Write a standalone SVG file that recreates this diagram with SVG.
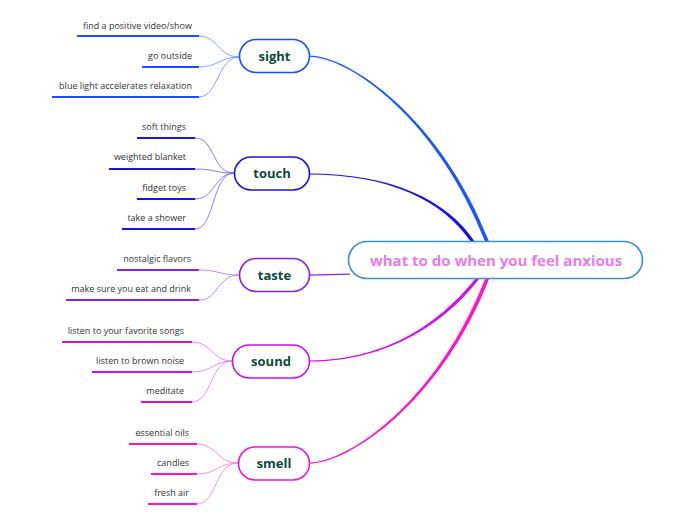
<svg xmlns="http://www.w3.org/2000/svg" width="696" height="520" viewBox="0 0 696 520">
<style>
.lbl{font-family:"Open Sans","Noto Sans",sans-serif;font-size:9px;fill:#333;text-anchor:end}
.nd{font-family:"Open Sans","Noto Sans",sans-serif;font-size:13px;font-weight:bold;fill:#0b4a3c;text-anchor:middle}
.box{fill:#fff;stroke-width:1.6}
.ul{stroke-width:2.2;fill:none}
.br{stroke-width:0.8;fill:none}
.c1{stroke:#1a4dff}.c2{stroke:#1a10e8}.c3{stroke:#8a20f0}.c4{stroke:#cc10ee}.c5{stroke:#ff10cc}
.l1{stroke:#6a8cff}.l2{stroke:#6a60f0}.l3{stroke:#b070f5}.l4{stroke:#e070f5}.l5{stroke:#ff70e0}
</style>
<rect width="696" height="520" fill="#fff"/>
<g id="connectors">
<path d="M309,55.5 C350,55.5 441.5,119 489,241.5 L485,241.5 C438.5,121 350,56.7 309,56.7 Z" fill="#1a55ff"/>
<path d="M309,173.4 C390,173.4 447,199 475,242 L471,242 C443,201 390,174.6 309,174.6 Z" fill="#1a10e8"/>
<path d="M309,274.5 L350,273.6 L350,274.8 L309,275.7 Z" fill="#8a20f0"/>
<path d="M309,360.4 C390,360.4 443,319 475,279 L479,279 C447,321 390,361.6 309,361.6 Z" fill="#cc10ee"/>
<path d="M309,462.4 C350,462.4 438.5,399 485,279 L489,279 C441.5,401 350,463.6 309,463.6 Z" fill="#ff10cc"/>
<!-- sight branches -->
<path class="br l1" d="M199,36 C218,36 218,57 239,57"/>
<path class="br l1" d="M199,67 C218,67 220,57 239,57"/>
<path class="br l1" d="M199,97 C218,97 218,57 239,57"/>
<!-- touch branches -->
<path class="br l2" d="M195,138 C215,138 212,173 234,173"/>
<path class="br l2" d="M195,169 C215,169 215,173 234,173"/>
<path class="br l2" d="M195,199 C215,199 215,173 234,173"/>
<path class="br l2" d="M195,229 C215,229 212,173 234,173"/>
<!-- taste branches -->
<path class="br l3" d="M199,270 C218,270 220,275 239,275"/>
<path class="br l3" d="M199,300 C218,300 218,275 239,275"/>
<!-- sound branches -->
<path class="br l4" d="M192,342 C212,342 212,361 232,361"/>
<path class="br l4" d="M192,372 C212,372 214,361 232,361"/>
<path class="br l4" d="M192,402 C212,402 210,361 232,361"/>
<!-- smell branches -->
<path class="br l5" d="M197,444 C217,444 217,463 238,463"/>
<path class="br l5" d="M197,474 C217,474 218,463 238,463"/>
<path class="br l5" d="M197,504 C217,504 215,463 238,463"/>
</g>
<g id="central">
<rect x="348.5" y="241.5" width="294" height="37" rx="18.5" fill="#fff" stroke="#3a90d0" stroke-width="1.6"/>
<text x="496" y="265.5" font-family="'Open Sans','Noto Sans',sans-serif" font-size="15" font-weight="bold" fill="#e67ce6" text-anchor="middle">what to do when you feel anxious</text>
</g>
<g id="sight">
<rect class="box c1" x="239.5" y="39.5" width="70" height="33" rx="16.5"/>
<text class="nd" x="274.5" y="61">sight</text>
</g>
<g id="touch">
<rect class="box c2" x="234.5" y="157" width="75" height="33" rx="16.5"/>
<text class="nd" x="272" y="178">touch</text>
</g>
<g id="taste">
<rect class="box c3" x="239.5" y="258.5" width="70" height="33" rx="16.5"/>
<text class="nd" x="274.5" y="280">taste</text>
</g>
<g id="sound">
<rect class="box c4" x="232.5" y="345" width="77" height="33" rx="16.5"/>
<text class="nd" x="271" y="366">sound</text>
</g>
<g id="smell">
<rect class="box c5" x="238.5" y="447" width="71" height="33" rx="16.5"/>
<text class="nd" x="274" y="468">smell</text>
</g>
<g id="sight-children">
<line class="ul c1" x1="77" y1="36" x2="199" y2="36"/><text class="lbl" x="192" y="29">find a positive video/show</text>
<line class="ul c1" x1="142" y1="67" x2="199" y2="67"/><text class="lbl" x="192" y="59">go outside</text>
<line class="ul c1" x1="52" y1="97" x2="199" y2="97"/><text class="lbl" x="192" y="89">blue light accelerates relaxation</text>
</g>
<g id="touch-children">
<line class="ul c2" x1="137" y1="138" x2="195" y2="138"/><text class="lbl" x="186" y="130">soft things</text>
<line class="ul c2" x1="109" y1="169" x2="195" y2="169"/><text class="lbl" x="186" y="160">weighted blanket</text>
<line class="ul c2" x1="137" y1="199" x2="195" y2="199"/><text class="lbl" x="186" y="191">fidget toys</text>
<line class="ul c2" x1="122" y1="229" x2="195" y2="229"/><text class="lbl" x="186" y="221">take a shower</text>
</g>
<g id="taste-children">
<line class="ul c3" x1="117" y1="270" x2="199" y2="270"/><text class="lbl" x="191" y="262">nostalgic flavors</text>
<line class="ul c3" x1="66" y1="300" x2="199" y2="300"/><text class="lbl" x="191" y="292">make sure you eat and drink</text>
</g>
<g id="sound-children">
<line class="ul c4" x1="62" y1="342" x2="192" y2="342"/><text class="lbl" x="184" y="334">listen to your favorite songs</text>
<line class="ul c4" x1="92" y1="372" x2="192" y2="372"/><text class="lbl" x="184" y="364">listen to brown noise</text>
<line class="ul c4" x1="141" y1="402" x2="192" y2="402"/><text class="lbl" x="184" y="394">meditate</text>
</g>
<g id="smell-children">
<line class="ul c5" x1="129" y1="444" x2="197" y2="444"/><text class="lbl" x="189" y="436">essential oils</text>
<line class="ul c5" x1="151" y1="474" x2="197" y2="474"/><text class="lbl" x="189" y="466">candles</text>
<line class="ul c5" x1="148" y1="504" x2="197" y2="504"/><text class="lbl" x="189" y="496">fresh air</text>
</g>
</svg>
